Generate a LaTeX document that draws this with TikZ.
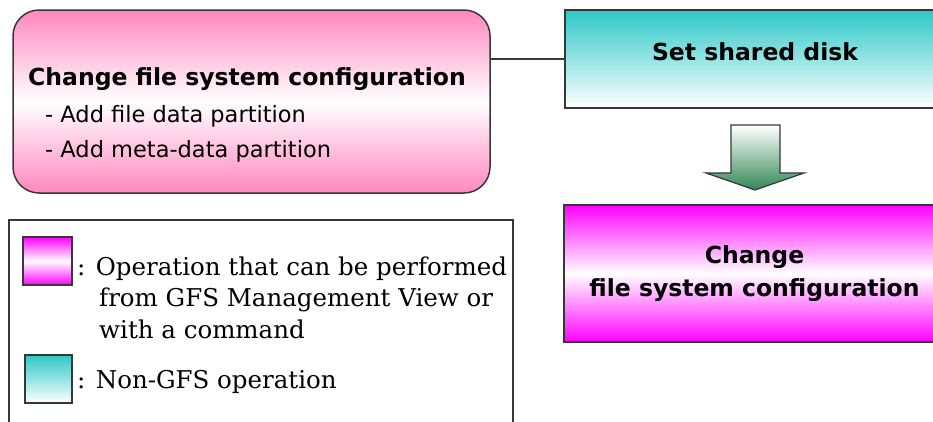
\documentclass[tikz,border=0pt]{standalone}
\usepackage{fontspec}
\setmainfont{DejaVu Serif}
\setsansfont{DejaVu Sans}
\usepackage{tikz}

\definecolor{gfspink}{RGB}{255,135,190}
\definecolor{gfsmag}{RGB}{255,0,255}
\definecolor{gfsteal}{RGB}{45,200,200}
\definecolor{gfsgreen}{RGB}{50,135,85}
\definecolor{gfsline}{RGB}{55,55,55}

\newcommand{\stepfont}{\sffamily\bfseries\fontsize{23.5}{28}\selectfont}
\newcommand{\itemfont}{\sffamily\fontsize{22.5}{27}\selectfont}
\newcommand{\keyfont}{\rmfamily\fontsize{24.5}{30}\selectfont}

\begin{document}
\begin{tikzpicture}[x=1pt, y=-1pt,
    frame/.style={draw=gfsline, line width=1.5pt},
    gfsbox/.style={frame, top color=gfsmag, bottom color=gfsmag, middle color=white},
    otherbox/.style={frame, top color=gfsteal, bottom color=white},
    txt/.style={inner sep=0pt, anchor=base west}]
    \useasboundingbox (0,0) rectangle (933,421);
    \clip (0,0) rectangle (933,421);

    % operation done in GFS
    \node[frame, rounded corners=26pt, minimum width=477pt, minimum height=183pt,
          top color=gfspink, bottom color=gfspink, middle color=white] (cfg) at (251.5,101.5) {};
    \node[txt] (cfgtitle) at (28,85) {\stepfont Change file system configuration};
    \node[txt] (cfgitemA) at (45,122) {\itemfont - Add file data partition};
    \node[txt] (cfgitemB) at (45,157) {\itemfont - Add meta-data partition};

    % flow on the right
    \node[otherbox, minimum width=380pt, minimum height=98pt] (disk) at (755,59) {};
    \node[txt, anchor=base] (disktxt) at (755,60) {\stepfont Set shared disk};

    \node[gfsbox, minimum width=381pt, minimum height=137pt] (change) at (754.5,273.5) {};
    \node[txt, anchor=base] (changeA) at (754.5,263) {\stepfont Change};
    \node[txt, anchor=base] (changeB) at (754.5,296) {\stepfont file system configuration};

    \draw[gfsline, line width=1.2pt] (disk.west) -- (disk.west -| cfg.east);

    % block arrow
    \shade[top color=white, bottom color=gfsgreen, draw=gfsline, line width=1.2pt]
        (731,125) -- (780,125) -- (780,173) -- (804,173) -- (755,190)
        -- (706,173) -- (731,173) -- cycle;

    % legend
    \draw[frame] (9,440) -- (9,220) -- (513,220) -- (513,440);
    \node[gfsbox, minimum width=49pt, minimum height=48pt] (keygfs) at (47.5,261) {};
    \node[txt] (keygfsA) at (77,275) {\keyfont : Operation that can be performed};
    \node[txt] (keygfsB) at (99,306.5) {\keyfont from GFS Management View or};
    \node[txt] (keygfsC) at (99,338) {\keyfont with a command};
    \node[otherbox, minimum width=47pt, minimum height=48pt] (keyother) at (48.5,379) {};
    \node[txt] (keyotherA) at (77,388) {\keyfont : Non-GFS operation};
\end{tikzpicture}
\end{document}
